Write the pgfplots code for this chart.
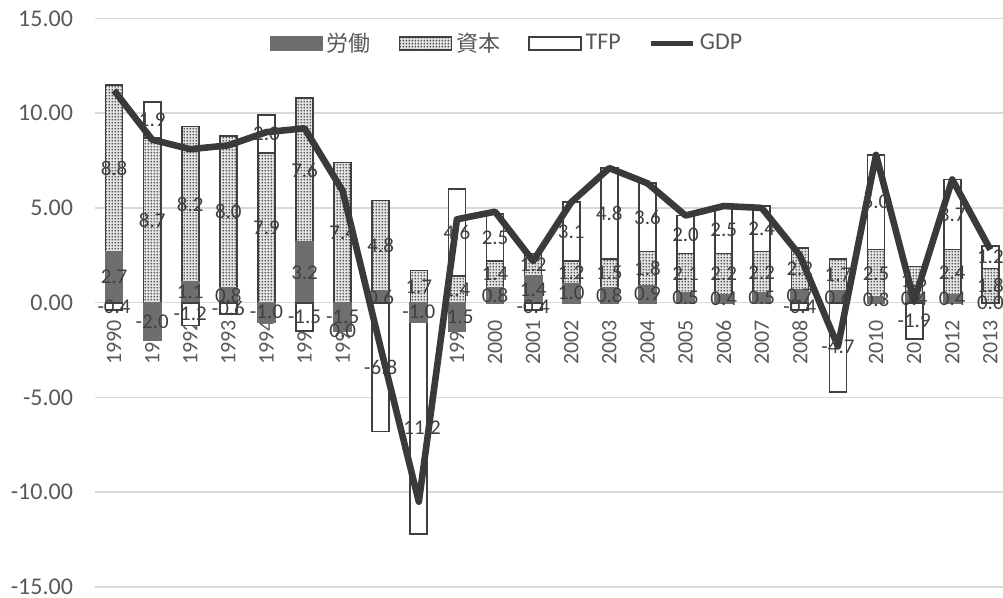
\documentclass[border=0pt]{standalone}
\usepackage{fontspec}
\setmainfont{Carlito}
\newfontfamily\jp{Noto Sans CJK JP}
\usepackage{pgfplots}
\pgfplotsset{compat=1.18}
\usepackage{pgfplotstable}
\usetikzlibrary{patterns.meta}

\definecolor{laborgray}{HTML}{6E6E6E}
\definecolor{edgegray}{HTML}{404040}
\definecolor{dotgray}{HTML}{4A4A4A}
\definecolor{capback}{HTML}{E4E4E4}
\definecolor{gdpgray}{HTML}{3A3A3A}
\definecolor{gridgray}{HTML}{D9D9D9}
\definecolor{textgray}{HTML}{595959}
\definecolor{labelgray}{HTML}{404040}

% fine dot grid for the capital share
\tikzdeclarepattern{
  name=capdots,
  type=uncolored,
  bounding box={(0pt,0pt) and (1.6pt,1.6pt)},
  tile size={(1.6pt,1.6pt)},
  code={
    \pgfpathcircle{\pgfpoint{0.8pt}{0.8pt}}{0.55pt}
    \pgfusepath{fill}
  }
}

\pgfkeys{/pgf/number format/assume math mode=true}

% growth accounting: labour, capital, TFP contributions and GDP growth (%)
\pgfplotstableread{
idx year lab cap tfp gdp
0 1990 2.7 8.8 -0.4 11.2
1 1991 -2.0 8.7 1.9 8.6
2 1992 1.1 8.2 -1.2 8.1
3 1993 0.8 8.0 -0.6 8.3
4 1994 -1.0 7.9 2.0 9.0
5 1995 3.2 7.6 -1.5 9.2
6 1996 -1.5 7.4 0.0 5.9
7 1997 0.6 4.8 -6.8 -2.4
8 1998 -1.0 1.7 -11.2 -10.5
9 1999 -1.5 1.4 4.6 4.4
10 2000 0.8 1.4 2.5 4.8
11 2001 1.4 1.2 -0.4 2.2
12 2002 1.0 1.2 3.1 5.3
13 2003 0.8 1.5 4.8 7.1
14 2004 0.9 1.8 3.6 6.3
15 2005 0.5 2.1 2.0 4.6
16 2006 0.4 2.2 2.5 5.1
17 2007 0.5 2.2 2.4 5.0
18 2008 0.7 2.2 -0.4 2.5
19 2009 0.6 1.7 -4.7 -2.3
20 2010 0.3 2.5 5.0 7.8
21 2011 0.4 1.5 -1.9 0.1
22 2012 0.4 2.4 3.7 6.5
23 2013 0.0 1.8 1.2 2.8
}\growth

\pgfplotsset{
  segbar/.style={ybar, bar width=8.5pt, bar shift=0pt, forget plot},
  seglabel/.style={draw=none, mark=none, forget plot,
    point meta=explicit,
    nodes near coords={\pgfmathprintnumber[fixed,fixed zerofill,precision=1]{\pgfplotspointmeta}},
    every node near coord/.style={anchor=center, inner sep=0pt,
      font=\fontsize{10.5}{12}\selectfont, text=labelgray}},
}

\begin{document}
\begin{tikzpicture}
\path[use as bounding box] (0,0) rectangle (501.5pt,299pt);
\begin{axis}[
  at={(47.5pt,5.5pt)}, anchor=south west,
  scale only axis, width=457.2pt, height=284.3pt,
  xmin=-0.5, xmax=23.5, ymin=-15, ymax=15,
  ytick={-15,-10,...,15},
  xtick={0,...,23},
  xticklabels from table={\growth}{year},
  axis x line*=middle, axis y line*=left,
  x axis line style={-, draw=gridgray, line width=0.75pt},
  y axis line style={draw=none},
  major tick length=0pt,
  ymajorgrids, grid style={draw=gridgray, line width=0.75pt},
  yticklabel style={font=\fontsize{12}{14}\selectfont, text=textgray, xshift=-7.5pt,
    /pgf/number format/fixed, /pgf/number format/fixed zerofill,
    /pgf/number format/precision=2},
  xticklabel style={yshift=-5.3pt, rotate=90, anchor=east,
    font=\fontsize{11}{13}\selectfont, text=textgray},
  unbounded coords=discard,
  clip=false,
  legend columns=4,
  legend style={at={(0.4517,0.956)}, anchor=center, draw=none, fill=none,
    font=\fontsize{12}{14}\selectfont, text=textgray,
    /tikz/every even column/.append style={column sep=12pt}},
]

% positive stack (painted from the top segment down)
\addplot[segbar, draw=edgegray, line width=0.9pt, fill=white]
  table[x=idx, y expr={\thisrow{tfp}>0 ? max(\thisrow{lab},0)+max(\thisrow{cap},0)+\thisrow{tfp} : nan}] {\growth};
\addplot[segbar, draw=edgegray, line width=0.8pt, fill=capback,
  postaction={pattern=capdots, pattern color=dotgray}]
  table[x=idx, y expr={\thisrow{cap}>0 ? max(\thisrow{lab},0)+\thisrow{cap} : nan}] {\growth};
\addplot[segbar, draw=laborgray, line width=0.9pt, fill=laborgray]
  table[x=idx, y expr={\thisrow{lab}>0 ? \thisrow{lab} : nan}] {\growth};

% negative stack
\addplot[segbar, draw=edgegray, line width=0.9pt, fill=white]
  table[x=idx, y expr={\thisrow{tfp}<=0 ? min(\thisrow{lab},0)+min(\thisrow{cap},0)+\thisrow{tfp} : nan}] {\growth};
\addplot[segbar, draw=laborgray, line width=0.9pt, fill=laborgray]
  table[x=idx, y expr={\thisrow{lab}<0 ? \thisrow{lab} : nan}] {\growth};

% GDP growth
\addplot[gdpgray, line width=3.3pt, line join=round, mark=none, forget plot]
  table[x=idx, y=gdp] {\growth};

% value labels, centred in each segment
\addplot[seglabel] table[x=idx, y expr={\thisrow{lab}/2}, meta=lab] {\growth};
\addplot[seglabel] table[x=idx, y expr={\thisrow{cap}>=0 ? max(\thisrow{lab},0)+\thisrow{cap}/2 : min(\thisrow{lab},0)+\thisrow{cap}/2}, meta=cap] {\growth};
\addplot[seglabel] table[x=idx, y expr={\thisrow{tfp}>0 ? max(\thisrow{lab},0)+max(\thisrow{cap},0)+\thisrow{tfp}/2 : min(\thisrow{lab},0)+min(\thisrow{cap},0)+\thisrow{tfp}/2}, meta=tfp] {\growth};

\addlegendimage{legend image code/.code={\fill[laborgray] (0pt,-3.3pt) rectangle (26pt,3.3pt);}}
\addlegendentry{{\jp\fontsize{11}{13}\selectfont 労働}}
\addlegendimage{legend image code/.code={\draw[edgegray, line width=0.7pt, fill=capback, postaction={pattern=capdots, pattern color=dotgray}] (0pt,-3.3pt) rectangle (26pt,3.3pt);}}
\addlegendentry{{\jp\fontsize{11}{13}\selectfont 資本}}
\addlegendimage{legend image code/.code={\draw[edgegray, line width=0.8pt, fill=white] (0pt,-3.3pt) rectangle (26pt,3.3pt);}}
\addlegendentry{TFP}
\addlegendimage{legend image code/.code={\draw[gdpgray, line width=2.6pt] (0pt,0pt) -- (21pt,0pt);}}
\addlegendentry{GDP}
\end{axis}
\end{tikzpicture}
\end{document}
